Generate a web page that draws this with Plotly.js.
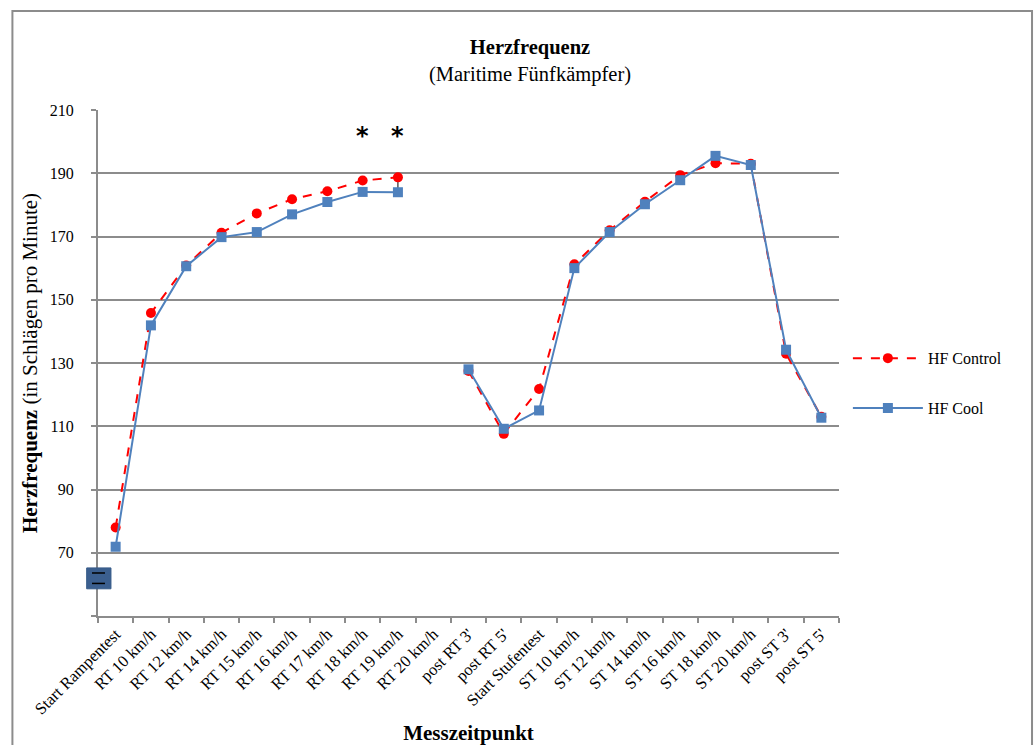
<!DOCTYPE html>
<html>
<head>
<meta charset="utf-8">
<script src="https://cdn.plot.ly/plotly-3.0.1.min.js"></script>
<style>html,body{margin:0;padding:0;background:#fff;}#chart{width:1034px;height:745px;}</style>
</head>
<body>
<div id="chart"></div>
<script>
const categories = ["Start Rampentest","RT 10 km/h","RT 12 km/h","RT 14 km/h","RT 15 km/h","RT 16 km/h","RT 17 km/h","RT 18 km/h","RT 19 km/h","RT 20 km/h","post RT 3'","post RT 5'","Start Stufentest","ST 10 km/h","ST 12 km/h","ST 14 km/h","ST 16 km/h","ST 18 km/h","ST 20 km/h","post ST 3'","post ST 5'"];
const hfControl = [78, 145.8, 160.8, 171.2, 177.3, 181.8, 184.3, 187.7, 188.7, null, 127.5, 107.6, 121.8, 161.2, 172, 181, 189.4, 193.2, 193, 132.9, 113];
const hfCool = [71.9, 141.9, 160.6, 169.8, 171.4, 177, 180.9, 184.1, 184, null, 128, 109.2, 115, 160, 171.4, 180.2, 187.8, 195.5, 192.6, 134.2, 112.7];
// black connector lines (significant differences) from Control down to Cool
const diffMinus = [0,0,0,0,0,0,0,0,4.7,0,0,0,0,0,0,0,0,0,0,0,0];
const sigCategories = ["RT 18 km/h","RT 19 km/h"];
const sigLevel = [201.8, 201.8];
const yTicks = [50,70,90,110,130,150,170,190,210];
const yTickText = ["","70","90","110","130","150","170","190","210"];

const serif = "'Liberation Serif', 'Times New Roman', Times, serif";
const grid = "#8c8c8c";

const traces = [
  {
    x: categories, y: hfControl, name: "HF Control", type: "scatter", mode: "lines+markers",
    line: {color: "#FF0000", width: 2, dash: "dash"},
    marker: {symbol: "circle", size: 10, color: "#FF0000"},
    error_y: {type: "data", symmetric: false, array: diffMinus.map(()=>0), arrayminus: diffMinus, color: "#000", thickness: 1, width: 0},
    legendgroup: "a", connectgaps: false
  },
  {
    x: categories, y: hfCool, name: "HF Cool", type: "scatter", mode: "lines+markers",
    line: {color: "#4F81BD", width: 2},
    marker: {symbol: "square", size: 10, color: "#4F81BD"},
    legendgroup: "b", connectgaps: false
  }
];

const layout = {
  width: 1034, height: 745,
  margin: {l: 98, r: 195, t: 110, b: 129},
  paper_bgcolor: "#fff", plot_bgcolor: "#fff",
  font: {family: serif, size: 16, color: "#000"},
  title: {
    text: "<b>Herzfrequenz</b><br>(Maritime Fünfkämpfer)",
    font: {family: serif, size: 20.5, color: "#000"},
    x: 0.5126, xref: "container", xanchor: "center", y: 0.927, yref: "container", yanchor: "top"
  },
  showlegend: true,
  legend: {
    x: 1.012, xanchor: "left", y: 0.46, yanchor: "middle",
    font: {family: serif, size: 16, color: "#000"},
    traceorder: "grouped", tracegroupgap: 26, bgcolor: "rgba(0,0,0,0)", itemwidth: 70
  },
  xaxis: {
    type: "category", categoryorder: "array", categoryarray: categories,
    range: [-0.5, categories.length - 0.5],
    tickangle: -45, tickson: "boundaries", ticks: "outside", ticklen: 5, tickcolor: grid, tickwidth: 2,
    showline: true, linecolor: grid, linewidth: 2, showgrid: false, zeroline: false,
    tickfont: {family: serif, size: 16.5, color: "#000"},
    title: {text: "<b>Messzeitpunkt</b>", font: {family: serif, size: 21, color: "#000"}, standoff: 10},
    fixedrange: true
  },
  yaxis: {
    range: [50, 210], tickmode: "array", tickvals: yTicks, ticktext: yTickText,
    ticks: "outside", ticklen: 5, tickcolor: grid, tickwidth: 2, ticklabelstandoff: 14,
    showline: true, linecolor: grid, linewidth: 2,
    showgrid: true, gridcolor: grid, gridwidth: 2, zeroline: false,
    tickfont: {family: serif, size: 16, color: "#000"},
    title: {text: "<b>Herzfrequenz</b> (in Schlägen pro Minute)", font: {family: serif, size: 21, color: "#000"}, standoff: 6},
    fixedrange: true
  },
  annotations: sigCategories.map((c, i) => ({
    x: c, y: sigLevel[i], xref: "x", yref: "y", text: "<b>*</b>", showarrow: false,
    font: {family: "DejaVu Sans, sans-serif", size: 24, color: "#000"}
  })),
  shapes: [
    // outer chart border
    {type: "rect", xref: "paper", yref: "paper", x0: -0.1155, x1: 1.2605, y0: -0.3, y1: 1.1955,
     line: {color: "#8c8c8c", width: 2}, fillcolor: "rgba(0,0,0,0)", layer: "below"},
    // axis break symbol
    {type: "rect", xref: "paper", yref: "y", x0: -0.0153, x1: 0.0175, y0: 58.6, y1: 65.2,
     line: {color: "#385D8A", width: 1}, fillcolor: "#3B5F8F", layer: "above"},
    {type: "line", xref: "paper", yref: "y", x0: -0.0081, x1: 0.0094, y0: 63.6, y1: 63.6, line: {color: "#000", width: 1.5}},
    {type: "line", xref: "paper", yref: "y", x0: -0.0081, x1: 0.0094, y0: 60.3, y1: 60.3, line: {color: "#000", width: 1.5}}
  ]
};

Plotly.newPlot("chart", traces, layout, {displayModeBar: false, staticPlot: true});
</script>
</body>
</html>
